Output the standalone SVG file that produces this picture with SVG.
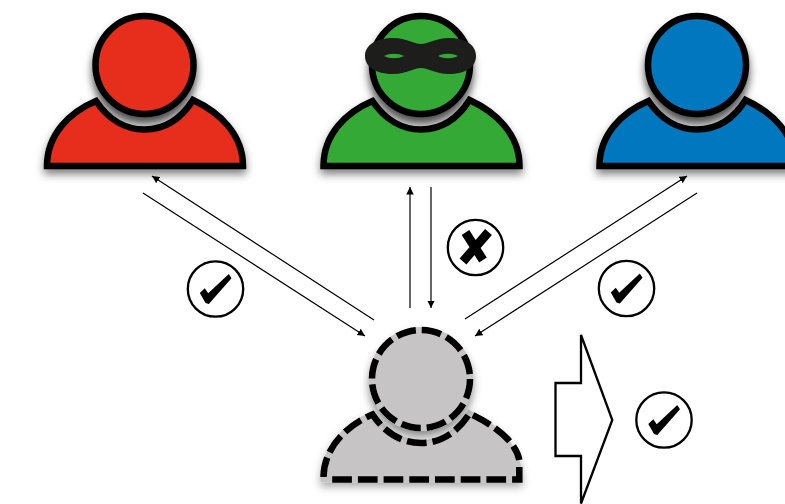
<svg xmlns="http://www.w3.org/2000/svg" width="785" height="504" viewBox="0 0 785 504">
<style>
.p{stroke:#000;stroke-width:6.500;stroke-linejoin:miter;filter:url(#s)}
.h{stroke:#000;stroke-width:6.500;filter:url(#t)}
.d{fill:none;stroke:#000;stroke-width:6.500;stroke-dasharray:19.700 6;stroke-linejoin:miter}
.u{stroke:#c6c4c5;stroke-width:6}
.c{stroke:#000;stroke-width:1.200;fill:none}
.b{fill:#fff;stroke:#000;stroke-width:2.300}
</style>
<defs>
<filter id="s" x="-20%" y="-20%" width="140%" height="150%"><feDropShadow dx="0" dy="5" stdDeviation="4" flood-color="#000" flood-opacity=".5"/></filter>
<filter id="t" x="-30%" y="-30%" width="160%" height="170%"><feDropShadow dx="0" dy="7" stdDeviation="4" flood-color="#000" flood-opacity=".7"/></filter>
<filter id="g" x="-20%" y="-20%" width="140%" height="150%"><feDropShadow dx="0" dy="4" stdDeviation="4" flood-color="#000" flood-opacity=".35"/></filter>
<filter id="gh" x="-30%" y="-30%" width="160%" height="170%"><feDropShadow dx="0" dy="6" stdDeviation="4" flood-color="#000" flood-opacity=".45"/></filter>
<marker id="a" markerUnits="userSpaceOnUse" markerWidth="8" markerHeight="8" refX="7.500" refY="3.750" orient="auto"><path d="M0 0L7.500 3.750L0 7.500z" fill="#000"/></marker>
<path id="body" d="M47 166C47 134 70 112 96 101C108 119 125 129.500 144.500 129.500C164 129.500 181 119 193 100C219 112 243 134 243 166Z"/>
<path id="tick" d="M-15.700 4L-10.700 -.7L-7.300 4.300L13.300 -15L16 -10.700L-6.700 15L-10 14Z" fill="#000"/>
</defs>
<g id="connectors" class="c">
<path d="M374 320L152 176" marker-end="url(#a)"/>
<path d="M143 193L365 336" marker-end="url(#a)"/>
<path d="M410 308L410 187" marker-end="url(#a)"/>
<path d="M431 187L431 308" marker-end="url(#a)"/>
<path d="M465 319L687 176" marker-end="url(#a)"/>
<path d="M697 193L475 336" marker-end="url(#a)"/>
</g>
<g id="user-red">
<use href="#body" class="p" fill="#e72d1b"/>
<circle cx="144.500" cy="65" r="49" class="h" fill="#e72d1b"/>
</g>
<g id="user-green">
<use href="#body" x="276.500" class="p" fill="#36a935"/>
<circle cx="421" cy="65" r="49" class="h" fill="#36a935"/>
<path fill="#1d1d1b" fill-rule="evenodd" d="M365 56C365 44 378 38 393 38C407 38 413 44 421 44C429 44 435 38 449 38C464 38 476 44 476 56C476 68 464 74 449 74C435 74 429 68 421 68C413 68 407 74 393 74C378 74 365 68 365 56ZM384 56C390 59 398 59 404 56C398 53 390 53 384 56ZM438 56C444 59 452 59 458 56C452 53 444 53 438 56Z"/>
</g>
<g id="user-blue">
<use href="#body" x="552.500" class="p" fill="#0077be"/>
<circle cx="697" cy="65" r="49" class="h" fill="#0077be"/>
</g>
<g id="user-grey">
<path filter="url(#g)" class="u" fill="#c6c4c5" d="M323.500 479.500C323.500 447.500 346.500 425.500 372.500 414.500C384.500 432.500 401.500 443 421 443C440.500 443 457.500 432.500 469.500 413.500C495.500 425.500 519.500 447.500 519.500 479.500Z"/>
<circle filter="url(#gh)" class="u" cx="421" cy="379" r="49" fill="#c6c4c5"/>
<path class="d" d="M323.500 477C324 447.500 346.500 425.500 372.500 414.500C384.500 432.500 401.500 443 421 443C440.500 443 457.500 432.500 469.500 413.500C495.500 425.500 516 442 519.300 460"/>
<path class="d" d="M519.300 467V479.500H329"/>
<circle cx="421" cy="379" r="49" class="d"/>
</g>
<g id="verdict-arrow"><path class="b" d="M581 335V383H555.500V456H581V503.500L612.300 420Z"/></g>
<g id="check-left"><circle class="b" cx="215.500" cy="289" r="27.700"/><use href="#tick" x="215.500" y="289"/></g>
<g id="cross-middle"><circle class="b" cx="475.500" cy="247.500" r="27.700"/><path fill="none" stroke="#000" stroke-width="9" d="M465.500 232.500L483 260M488.500 232L463 261.500"/></g>
<g id="check-right"><circle class="b" cx="626.500" cy="288.500" r="27.700"/><use href="#tick" x="626.500" y="288.500"/></g>
<g id="check-bottom"><circle class="b" cx="664" cy="420" r="27.700"/><use href="#tick" x="664" y="420"/></g>
</svg>
